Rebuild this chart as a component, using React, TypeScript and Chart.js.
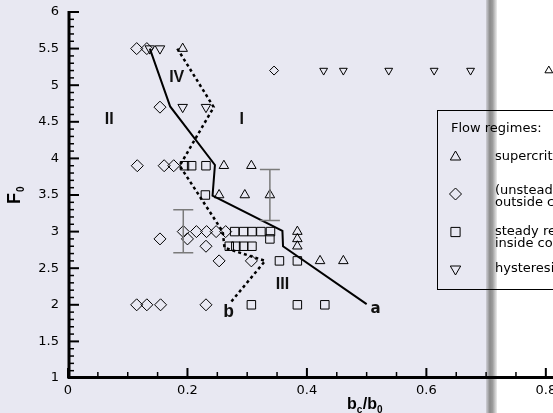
import React, { useEffect, useRef } from 'react';
import { Chart, registerables } from 'chart.js';

Chart.register(...registerables);

// ---------- data ----------
const xTicks = [0, 0.2, 0.4, 0.6, 0.8];
const yTicks = [1, 1.5, 2, 2.5, 3, 3.5, 4, 4.5, 5, 5.5, 6];
const X_MIN = 0;
const X_MAX = 0.812;
const Y_MIN = 1;
const Y_MAX = 6;

// supercritical flow (up triangles)
const supercritical: [number, number][] = [
  [0.192, 5.5], [0.261, 3.9], [0.307, 3.9], [0.253, 3.5], [0.296, 3.5], [0.338, 3.5],
  [0.384, 3.0], [0.384, 2.9], [0.384, 2.8], [0.422, 2.6], [0.461, 2.6],
];
const supercriticalSmall: [number, number][] = [[0.805, 5.2]];

// (unsteady) reflection outside contraction (diamonds)
const unsteady: [number, number][] = [
  [0.115, 5.5], [0.132, 5.5], [0.154, 4.7], [0.116, 3.9], [0.161, 3.9], [0.177, 3.9],
  [0.193, 3.0], [0.215, 3.0], [0.232, 3.0], [0.248, 3.0], [0.264, 3.0],
  [0.154, 2.9], [0.2, 2.9], [0.231, 2.8], [0.253, 2.6], [0.307, 2.6],
  [0.115, 2.0], [0.132, 2.0], [0.155, 2.0], [0.231, 2.0],
];
const unsteadySmall: [number, number][] = [[0.345, 5.2]];

// steady reflection inside contraction (squares)
const steady: [number, number][] = [
  [0.195, 3.9], [0.207, 3.9], [0.231, 3.9], [0.23, 3.5],
  [0.279, 3.0], [0.294, 3.0], [0.308, 3.0], [0.323, 3.0], [0.339, 3.0], [0.338, 2.9],
  [0.27, 2.8], [0.281, 2.8], [0.294, 2.8], [0.308, 2.8],
  [0.354, 2.6], [0.384, 2.6], [0.307, 2.0], [0.384, 2.0], [0.43, 2.0],
];

// hysteresis (down triangles)
const hysteresis: [number, number][] = [
  [0.137, 5.5], [0.154, 5.5], [0.192, 4.7], [0.231, 4.7],
];
const hysteresisSmall: [number, number][] = [
  [0.428, 5.2], [0.461, 5.2], [0.537, 5.2], [0.613, 5.2], [0.674, 5.2],
];

// boundary curves
const curveA: [number, number][] = [
  [0.137, 5.5], [0.171, 4.71], [0.246, 3.91], [0.242, 3.49], [0.359, 3.01], [0.36, 2.8], [0.5, 2.01],
];
const curveB: [number, number][] = [
  [0.183, 5.5], [0.244, 4.7], [0.187, 3.9], [0.259, 3.0], [0.262, 2.78], [0.33, 2.6], [0.271, 2.02],
];

// error bars
const errX = [0.193, 0.338];
const errLow = [2.71, 3.15];
const errHigh = [3.3, 3.85];

// region labels
const regionText = ['II', 'I', 'IV', 'III'];
const regionX = [0.069, 0.291, 0.182, 0.359];
const regionY = [4.525, 4.53, 5.11, 2.27];

const curveText = ['a', 'b'];
const curveX = [0.515, 0.269];
const curveY = [1.94, 1.89];

const legendTitle = 'Flow regimes:';
const legendLabels: string[][] = [
  ['supercritical flow'],
  ['(unsteady) reflection', 'outside contraction'],
  ['steady reflection', 'inside contraction'],
  ['hysteresis'],
];

// ---------- helpers ----------
const toXY = (arr: [number, number][]) => arr.map(([x, y]) => ({ x, y }));
const BG = 'rgb(232,232,242)';

function markerSet(label: string, arr: [number, number][], style: string, radius: number, rotation = 0) {
  return {
    type: 'scatter' as const,
    label,
    data: toXY(arr),
    pointStyle: style,
    pointRadius: radius,
    pointRotation: rotation,
    pointBorderColor: '#000',
    pointBackgroundColor: 'rgba(0,0,0,0)',
    pointBorderWidth: 1,
    showLine: false,
  };
}

function drawShape(ctx: CanvasRenderingContext2D, kind: string, cx: number, cy: number, r: number) {
  ctx.beginPath();
  if (kind === 'up') {
    ctx.moveTo(cx, cy - r);
    ctx.lineTo(cx + r * 0.866, cy + r * 0.5);
    ctx.lineTo(cx - r * 0.866, cy + r * 0.5);
    ctx.closePath();
  } else if (kind === 'down') {
    ctx.moveTo(cx, cy + r);
    ctx.lineTo(cx + r * 0.866, cy - r * 0.5);
    ctx.lineTo(cx - r * 0.866, cy - r * 0.5);
    ctx.closePath();
  } else if (kind === 'diamond') {
    ctx.moveTo(cx, cy - r);
    ctx.lineTo(cx + r, cy);
    ctx.lineTo(cx, cy + r);
    ctx.lineTo(cx - r, cy);
    ctx.closePath();
  } else {
    const s = r * 0.7071;
    ctx.rect(cx - s, cy - s, 2 * s, 2 * s);
  }
  ctx.stroke();
}

const backgroundPlugin = {
  id: 'bgPanels',
  beforeDraw(chart: any) {
    const { ctx, width, height } = chart;
    ctx.save();
    ctx.fillStyle = BG;
    ctx.fillRect(0, 0, 487, height);
    ctx.fillStyle = '#ffffff';
    ctx.fillRect(497, 0, width - 497, height);
    const g = ctx.createLinearGradient(486, 0, 497, 0);
    g.addColorStop(0, '#cfcfd6');
    g.addColorStop(0.35, '#8a8a8a');
    g.addColorStop(0.6, '#9c9c9c');
    g.addColorStop(1, '#ededed');
    ctx.fillStyle = g;
    ctx.fillRect(486, 0, 11, height);
    ctx.restore();
  },
};

const overlayPlugin = {
  id: 'overlay',
  afterDatasetsDraw(chart: any) {
    const { ctx, chartArea: a } = chart;
    const xs = chart.scales.x;
    const ys = chart.scales.y;
    ctx.save();
    ctx.strokeStyle = '#000';
    ctx.lineCap = 'butt';

    // ticks (inward)
    for (let i = 0; i * 0.05 <= X_MAX + 1e-9; i++) {
      const px = xs.getPixelForValue(i * 0.05);
      const major = i % 4 === 0;
      ctx.lineWidth = major ? 2 : 1.5;
      ctx.beginPath();
      ctx.moveTo(px, a.bottom);
      ctx.lineTo(px, a.bottom - (major ? 10 : 6));
      ctx.stroke();
    }
    for (let i = 0; Y_MIN + i * 0.1 <= Y_MAX + 1e-9; i++) {
      const py = ys.getPixelForValue(Y_MIN + i * 0.1);
      const major = i % 5 === 0;
      ctx.lineWidth = major ? 2 : 1.5;
      ctx.beginPath();
      ctx.moveTo(a.left, py);
      ctx.lineTo(a.left + (major ? 11 : 6), py);
      ctx.stroke();
    }
    // axis lines
    ctx.lineWidth = 3;
    ctx.beginPath();
    ctx.moveTo(a.left + 1, a.top - 1);
    ctx.lineTo(a.left + 1, a.bottom - 0.5);
    ctx.lineTo(a.right, a.bottom - 0.5);
    ctx.stroke();

    // error bars
    ctx.strokeStyle = '#7a7a7a';
    ctx.lineWidth = 1.5;
    for (let i = 0; i < errX.length; i++) {
      const px = xs.getPixelForValue(errX[i]);
      const p1 = ys.getPixelForValue(errLow[i]);
      const p2 = ys.getPixelForValue(errHigh[i]);
      ctx.beginPath();
      ctx.moveTo(px, p1); ctx.lineTo(px, p2);
      ctx.moveTo(px - 10, p1); ctx.lineTo(px + 10, p1);
      ctx.moveTo(px - 10, p2); ctx.lineTo(px + 10, p2);
      ctx.stroke();
    }

    // region labels
    ctx.fillStyle = '#111';
    ctx.textAlign = 'center';
    ctx.textBaseline = 'middle';
    ctx.font = 'bold 16px "Liberation Sans", Arial, sans-serif';
    for (let i = 0; i < regionText.length; i++) {
      ctx.fillText(regionText[i], xs.getPixelForValue(regionX[i]), ys.getPixelForValue(regionY[i]));
    }
    ctx.font = 'bold 15px "DejaVu Sans", sans-serif';
    ctx.fillText(curveText[0], xs.getPixelForValue(curveX[0]), ys.getPixelForValue(curveY[0]));
    ctx.font = 'bold 18px "Liberation Mono", "DejaVu Sans Mono", monospace';
    ctx.fillText(curveText[1], xs.getPixelForValue(curveX[1]), ys.getPixelForValue(curveY[1]));

    // axis titles
    ctx.fillStyle = '#000';
    ctx.textAlign = 'left';
    ctx.textBaseline = 'alphabetic';
    const big = 'bold 16px "Liberation Sans", Arial, sans-serif';
    const small = 'bold 10px "Liberation Sans", Arial, sans-serif';
    let cx = 347;
    const by = 409;
    const parts: [string, boolean][] = [['b', false], ['c', true], ['/', false], ['b', false], ['0', true]];
    for (const [t, sub] of parts) {
      ctx.font = sub ? small : big;
      ctx.fillText(t, cx, sub ? by + 4 : by);
      cx += ctx.measureText(t).width + (sub ? 0.5 : 0);
    }
    ctx.save();
    ctx.translate(20, 204);
    ctx.rotate(-Math.PI / 2);
    ctx.font = 'bold 18px "Liberation Sans", Arial, sans-serif';
    ctx.fillText('F', 0, 0);
    const wF = ctx.measureText('F').width;
    ctx.font = 'bold 10px "Liberation Sans", Arial, sans-serif';
    ctx.fillText('0', wF + 1, 4);
    ctx.restore();

    // legend
    ctx.strokeStyle = '#000';
    ctx.lineWidth = 1;
    ctx.strokeRect(437.5, 110.5, 200, 179);
    ctx.fillStyle = '#000';
    ctx.font = '13px "DejaVu Sans", sans-serif';
    ctx.textBaseline = 'middle';
    ctx.fillText(legendTitle, 451, 129);
    const kinds = ['up', 'diamond', 'square', 'down'];
    const rowY = [157, 194, 232, 269];
    const lineOff: number[][] = [[0], [-3, 9], [0, 12], [0]];
    for (let i = 0; i < kinds.length; i++) {
      drawShape(ctx, kinds[i], 455.5, rowY[i], kinds[i] === 'square' ? 6.5 : 6);
      legendLabels[i].forEach((t, j) => ctx.fillText(t, 495, rowY[i] + lineOff[i][j]));
    }
    ctx.restore();
  },
};

export default function App() {
  const ref = useRef<HTMLCanvasElement>(null);
  useEffect(() => {
    const canvas = ref.current;
    if (!canvas) return;
    const chart = new Chart(canvas, {
      type: 'scatter',
      data: {
        datasets: [
          {
            type: 'line' as const,
            label: 'a',
            data: toXY(curveA),
            borderColor: '#000',
            borderWidth: 2,
            pointRadius: 0,
            fill: false,
            tension: 0,
          },
          {
            type: 'line' as const,
            label: 'b',
            data: toXY(curveB),
            borderColor: '#000',
            borderWidth: 2.5,
            borderDash: [3, 3],
            pointRadius: 0,
            fill: false,
            tension: 0,
          },
          markerSet('supercritical', supercritical, 'triangle', 5.5),
          markerSet('supercritical small', supercriticalSmall, 'triangle', 4.5),
          markerSet('unsteady', unsteady, 'rectRot', 6),
          markerSet('unsteady small', unsteadySmall, 'rectRot', 4.5),
          markerSet('steady', steady, 'rect', 6),
          markerSet('hysteresis', hysteresis, 'triangle', 5.5, 180),
          markerSet('hysteresis small', hysteresisSmall, 'triangle', 4.5, 180),
        ] as any,
      },
      options: {
        animation: false,
        responsive: false,
        devicePixelRatio: 1,
        events: [],
        layout: { padding: { top: 12, right: 0, left: 0, bottom: 0 }, autoPadding: false } as any,
        plugins: {
          legend: { display: false },
          tooltip: { enabled: false },
          title: { display: false },
        },
        scales: {
          x: {
            type: 'linear',
            min: X_MIN,
            max: X_MAX,
            grid: { display: false, drawTicks: false },
            border: { display: false },
            afterBuildTicks: (s: any) => { s.ticks = xTicks.map((v) => ({ value: v })); },
            afterFit: (s: any) => { s.height = 35; s.paddingLeft = 0; s.paddingRight = 0; },
            ticks: {
              color: '#000',
              padding: 5,
              maxRotation: 0,
              autoSkip: false,
              font: { family: '"DejaVu Sans", sans-serif', size: 13 },
              callback: (v: any) => String(Math.round(Number(v) * 100) / 100),
            },
          },
          y: {
            type: 'linear',
            min: Y_MIN,
            max: Y_MAX,
            grid: { display: false, drawTicks: false },
            border: { display: false },
            afterBuildTicks: (s: any) => { s.ticks = yTicks.map((v) => ({ value: v })); },
            afterFit: (s: any) => { s.width = 68; s.paddingTop = 0; s.paddingBottom = 0; },
            ticks: {
              color: '#000',
              padding: 9,
              autoSkip: false,
              font: { family: '"DejaVu Sans", sans-serif', size: 13 },
              callback: (v: any) => String(Math.round(Number(v) * 100) / 100),
            },
          },
        },
      } as any,
      plugins: [backgroundPlugin, overlayPlugin],
    });
    return () => chart.destroy();
  }, []);
  return (
    <canvas
      ref={ref}
      width={553}
      height={413}
      style={{ position: 'fixed', left: 0, top: 0, width: 553, height: 413, display: 'block' }}
    />
  );
}
